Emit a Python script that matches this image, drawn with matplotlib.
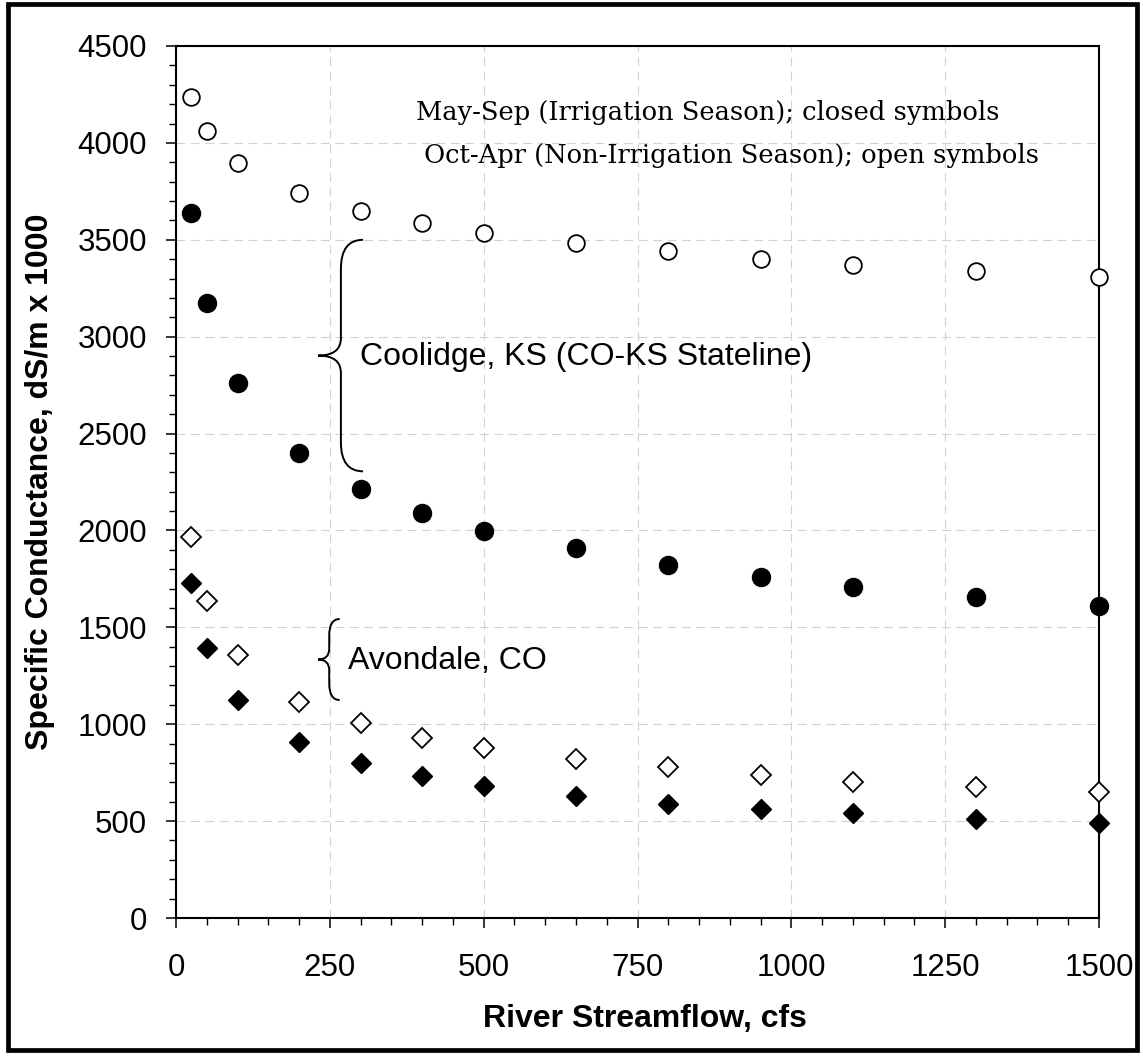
import matplotlib
matplotlib.use("Agg")
import matplotlib.pyplot as plt
from matplotlib.path import Path
from matplotlib.patches import PathPatch, Rectangle
from matplotlib.ticker import MultipleLocator

# ---- data ----
flow = [25, 50, 100, 200, 300, 400, 500, 650, 800, 950, 1100, 1300, 1500]
coolidge_irr = [3640, 3175, 2762, 2401, 2215, 2092, 1997, 1908, 1823, 1761, 1710, 1658, 1610]
coolidge_non = [4238, 4063, 3898, 3743, 3650, 3588, 3537, 3485, 3444, 3401, 3371, 3340, 3309]
avondale_irr = [1727, 1395, 1125, 910, 798, 733, 683, 631, 588, 561, 540, 509, 489]
avondale_non = [1964, 1636, 1357, 1116, 1005, 930, 879, 819, 778, 736, 703, 674, 652]

x_ticks = [0, 250, 500, 750, 1000, 1250, 1500]
y_ticks = [0, 500, 1000, 1500, 2000, 2500, 3000, 3500, 4000, 4500]

plt.rcParams['font.family'] = ['Liberation Sans', 'DejaVu Sans']

fig = plt.figure(figsize=(11.43, 10.57), dpi=100)
ax = fig.add_axes([176/1143, 139/1057, 923/1143, 872/1057])

ax.set_xlim(0, 1500)
ax.set_ylim(0, 4500)
ax.set_xticks(x_ticks)
ax.set_yticks(y_ticks)
ax.xaxis.set_minor_locator(MultipleLocator(50))
ax.yaxis.set_minor_locator(MultipleLocator(100))

ax.grid(True, which='major', color='#d2d2d2', linestyle=(0, (8, 5)), linewidth=0.8)
ax.set_axisbelow(True)

for s in ax.spines.values():
    s.set_linewidth(1.5)
    s.set_color('black')

ax.tick_params(axis='both', which='major', direction='out', length=7.2, width=1.1,
               labelsize=22.5, top=False, right=False)
ax.tick_params(axis='both', which='minor', direction='out', length=5, width=1.0,
               top=False, right=False)
ax.tick_params(axis='y', which='major', pad=13.5)
ax.tick_params(axis='x', which='major', pad=18)

mk = dict(linestyle='none', clip_on=False, zorder=5)
ax.plot(flow, coolidge_non, marker='o', markersize=12, markerfacecolor='white',
        markeredgecolor='black', markeredgewidth=1.3, **mk)
ax.plot(flow, coolidge_irr, marker='o', markersize=13, markerfacecolor='black',
        markeredgecolor='black', markeredgewidth=1.0, **mk)
ax.plot(flow, avondale_non, marker='D', markersize=10, markerfacecolor='white',
        markeredgecolor='black', markeredgewidth=1.3, **mk)
ax.plot(flow, avondale_irr, marker='D', markersize=10.5, markerfacecolor='black',
        markeredgecolor='black', markeredgewidth=1.0, **mk)

ax.set_xlabel('River Streamflow, cfs', fontsize=23, fontweight='bold')
ax.xaxis.set_label_coords(0.508, -0.0985)
ax.set_ylabel('Specific Conductance, dS/m x 1000', fontsize=23, fontweight='bold')
ax.yaxis.set_label_coords(-0.131, 0.5)


def brace(x_end, x_spine, x_tip, y_top, y_bot, r, m):
    y_mid = (y_top + y_bot) / 2.0
    verts = [(x_end, y_top), (x_spine, y_top), (x_spine, y_top - r),
             (x_spine, y_mid + m),
             (x_spine, y_mid), (x_tip, y_mid),
             (x_spine, y_mid), (x_spine, y_mid - m),
             (x_spine, y_bot + r),
             (x_spine, y_bot), (x_end, y_bot)]
    codes = [Path.MOVETO, Path.CURVE3, Path.CURVE3, Path.LINETO,
             Path.CURVE3, Path.CURVE3, Path.CURVE3, Path.CURVE3,
             Path.LINETO, Path.CURVE3, Path.CURVE3]
    ax.add_patch(PathPatch(Path(verts, codes), fill=False, lw=1.4,
                           edgecolor='black', zorder=4))


brace(304, 268, 231, 3500, 2305, 150, 90)
brace(266, 249, 231, 1543, 1125, 85, 55)

ax.text(299, 2895, 'Coolidge, KS (CO-KS Stateline)', fontsize=23,
        ha='left', va='center', zorder=6)
ax.text(280, 1325, 'Avondale, CO', fontsize=23, ha='left', va='center', zorder=6)

ax.text(1339, 4159, 'May-Sep (Irrigation Season); closed symbols',
        family=['DejaVu Serif'], fontsize=18.5, ha='right', va='center', zorder=6)
ax.text(1403, 3937, 'Oct-Apr (Non-Irrigation Season); open symbols',
        family=['DejaVu Serif'], fontsize=18.5, ha='right', va='center', zorder=6)

fig.patches.append(Rectangle((8/1143, 7/1057), 1129/1143, 1046/1057,
                             transform=fig.transFigure, fill=False,
                             edgecolor='black', linewidth=3.4))

fig.savefig('out.png', dpi=100, facecolor='white')
